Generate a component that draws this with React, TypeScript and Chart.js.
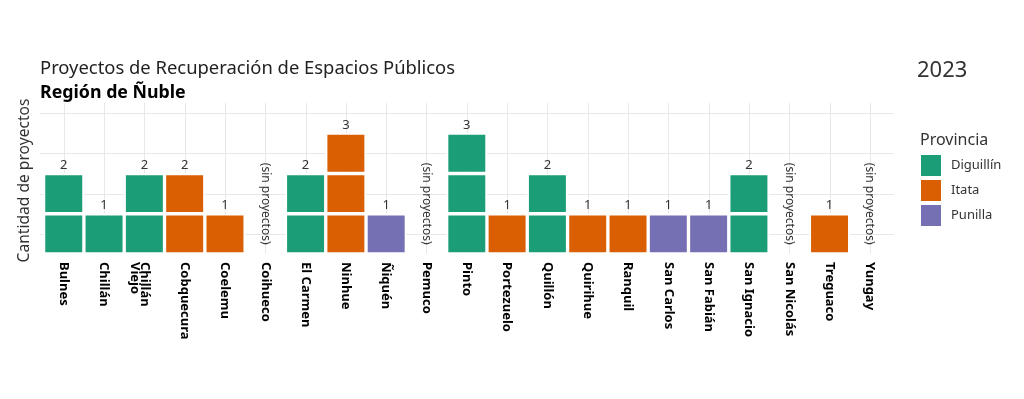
import React, { useEffect, useRef } from "react";
import { Chart, registerables } from "chart.js";

Chart.register(...registerables);

const comunas: string[][] = [
  ["Bulnes"], ["Chillán"], ["Chillán", "Viejo"], ["Cobquecura"], ["Coelemu"], ["Coihueco"],
  ["El Carmen"], ["Ninhue"], ["Ñiquén"], ["Pemuco"], ["Pinto"], ["Portezuelo"], ["Quillón"],
  ["Quirihue"], ["Ranquil"], ["San Carlos"], ["San Fabián"], ["San Ignacio"], ["San Nicolás"],
  ["Treguaco"], ["Yungay"],
];
const proyectos = [2, 1, 2, 2, 1, 0, 2, 3, 1, 0, 3, 1, 2, 1, 1, 1, 1, 2, 0, 1, 0];
const provinciaComuna = [
  "Diguillín", "Diguillín", "Diguillín", "Itata", "Itata", "Punilla",
  "Diguillín", "Itata", "Punilla", "Diguillín", "Diguillín", "Itata", "Diguillín",
  "Itata", "Itata", "Punilla", "Punilla", "Diguillín", "Punilla",
  "Itata", "Diguillín",
];
const provincias = ["Diguillín", "Itata", "Punilla"];
const colores = ["#1b9e77", "#d95f02", "#7570b3"];
const niveles = [1, 2, 3];
const gridY = [0.5, 1.5, 2.5, 3.5];

const titulo = "Proyectos de Recuperación de Espacios Públicos";
const subtitulo = "Región de Ñuble";
const anio = "2023";
const tituloY = "Cantidad de proyectos";
const tituloLeyenda = "Provincia";
const sinProyectos = "(sin proyectos)";

const FONT = "'Noto Sans', 'Open Sans', sans-serif";
const TXT = "#333333";

export default function App() {
  const ref = useRef<HTMLCanvasElement | null>(null);

  useEffect(() => {
    document.body.style.margin = "0";
    const canvas = ref.current;
    if (!canvas) return;
    const colorOf = (p: string) => colores[provincias.indexOf(p)];

    const datasets = niveles.map((lv) => ({
      label: "nivel " + lv,
      data: proyectos.map((p) => (p >= lv ? 1 : null)),
      backgroundColor: provinciaComuna.map(colorOf),
      borderColor: "#ffffff",
      borderWidth: 2,
      borderSkipped: false as const,
      barPercentage: 1,
      categoryPercentage: 1,
    }));

    const decor = {
      id: "decor",
      beforeDatasetsDraw(chart: any) {
        const ctx = chart.ctx;
        const x = chart.scales.x;
        const y = chart.scales.y;
        const area = chart.chartArea;
        ctx.save();
        ctx.strokeStyle = "#e8e8e8";
        ctx.lineWidth = 1;
        const left = 40;
        const right = 894;
        gridY.forEach((v) => {
          const py = Math.round(y.getPixelForValue(v)) + 0.5;
          ctx.beginPath();
          ctx.moveTo(left, py);
          ctx.lineTo(right, py);
          ctx.stroke();
        });
        comunas.forEach((_, i) => {
          const px = Math.round(x.getPixelForValue(i)) + 0.5;
          ctx.beginPath();
          ctx.moveTo(px, area.top);
          ctx.lineTo(px, area.bottom);
          ctx.stroke();
        });
        ctx.restore();
      },
      afterDatasetsDraw(chart: any) {
        const ctx = chart.ctx;
        const x = chart.scales.x;
        const y = chart.scales.y;
        const area = chart.chartArea;
        ctx.save();
        proyectos.forEach((p, i) => {
          const px = x.getPixelForValue(i);
          if (p > 0) {
            ctx.fillStyle = TXT;
            ctx.font = `13px ${FONT}`;
            ctx.textAlign = "center";
            ctx.textBaseline = "middle";
            ctx.fillText(String(p), px, y.getPixelForValue(p) - 8);
          } else {
            ctx.save();
            ctx.translate(px, y.getPixelForValue(1.25));
            ctx.rotate(Math.PI / 2);
            ctx.fillStyle = TXT;
            ctx.font = `12px ${FONT}`;
            ctx.textAlign = "center";
            ctx.textBaseline = "middle";
            ctx.fillText(sinProyectos, 0, 0);
            ctx.restore();
          }
        });
        comunas.forEach((lines, i) => {
          const px = x.getPixelForValue(i);
          ctx.save();
          ctx.translate(px, area.bottom + 8);
          ctx.rotate(Math.PI / 2);
          ctx.fillStyle = "#000000";
          ctx.font = `bold 13px ${FONT}`;
          ctx.textAlign = "left";
          ctx.textBaseline = "middle";
          lines.forEach((l, k) => ctx.fillText(l, 0, k * 10));
          ctx.restore();
        });
        ctx.fillStyle = "#222222";
        ctx.textAlign = "left";
        ctx.textBaseline = "alphabetic";
        ctx.font = `18.4px ${FONT}`;
        ctx.fillText(titulo, 40, 74);
        ctx.fillStyle = "#000000";
        ctx.font = `bold 17.8px ${FONT}`;
        ctx.fillText(subtitulo, 40, 98);
        ctx.fillStyle = TXT;
        ctx.font = `22px ${FONT}`;
        ctx.fillText(anio, 917, 77);
        ctx.save();
        ctx.translate(25, (area.top + area.bottom) / 2 + 2);
        ctx.rotate(-Math.PI / 2);
        ctx.font = `15.6px ${FONT}`;
        ctx.textAlign = "center";
        ctx.textBaseline = "middle";
        ctx.fillStyle = TXT;
        ctx.fillText(tituloY, 0, 0);
        ctx.restore();
        ctx.fillStyle = TXT;
        ctx.font = `16px ${FONT}`;
        ctx.textAlign = "left";
        ctx.textBaseline = "alphabetic";
        ctx.fillText(tituloLeyenda, 920, 145);
        provincias.forEach((p, k) => {
          const top = 155 + k * 25;
          ctx.fillStyle = colores[k];
          ctx.fillRect(921, top, 20, 21);
          ctx.fillStyle = TXT;
          ctx.font = `13px ${FONT}`;
          ctx.textBaseline = "middle";
          ctx.fillText(p, 951, top + 10.5);
        });
        ctx.restore();
      },
    };

    const chart = new Chart(canvas, {
      type: "bar",
      data: { labels: comunas.map((l) => l.join(" ")), datasets },
      options: {
        responsive: false,
        animation: false,
        events: [],
        layout: { padding: { left: 43.6, right: 134, top: 103, bottom: 145 } },
        plugins: { legend: { display: false }, tooltip: { enabled: false }, title: { display: false } },
        scales: {
          x: { display: false, stacked: true, offset: true },
          y: { display: false, stacked: true, min: 0, max: 3.75 },
        },
      },
      plugins: [decor],
    });
    return () => chart.destroy();
  }, []);

  return (
    <div style={{ position: "absolute", left: 0, top: 0, width: 1024, height: 399, background: "#fff" }}>
      <canvas ref={ref} width={1024} height={399} />
    </div>
  );
}
